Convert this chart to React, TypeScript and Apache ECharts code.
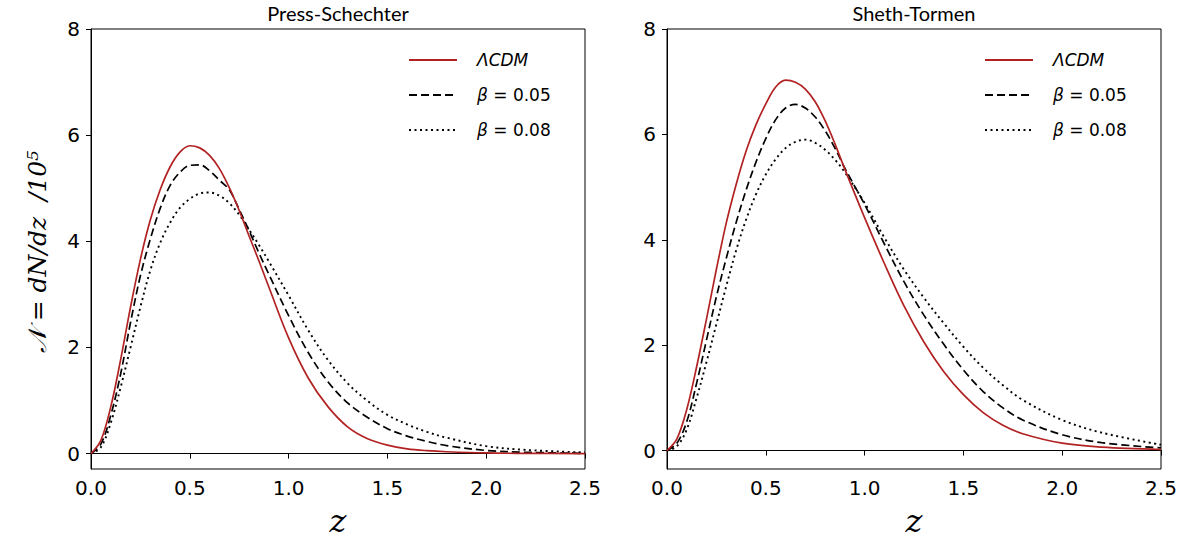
import React, { useEffect, useRef } from "react";
import * as echarts from "echarts";

// redshift grid
const zGrid = [0, 0.05, 0.1, 0.15, 0.2, 0.25, 0.3, 0.35, 0.4, 0.45, 0.5, 0.55, 0.6, 0.65, 0.7, 0.75, 0.8, 0.85, 0.9, 1.0, 1.1, 1.2, 1.3, 1.4, 1.5, 1.6, 1.7, 1.8, 2.0, 2.2, 2.5];

// Press-Schechter
const psLCDM = [0, 0.25, 0.88, 1.77, 2.76, 3.66, 4.40, 4.97, 5.40, 5.68, 5.80, 5.76, 5.62, 5.37, 5.01, 4.58, 4.10, 3.63, 3.14, 2.18, 1.42, 0.88, 0.50, 0.28, 0.16, 0.09, 0.055, 0.035, 0.012, 0.005, 0.001];
const psB005 = [0, 0.18, 0.72, 1.50, 2.47, 3.35, 4.04, 4.62, 5.05, 5.30, 5.43, 5.44, 5.33, 5.15, 4.97, 4.60, 4.20, 3.78, 3.38, 2.60, 1.90, 1.35, 0.95, 0.68, 0.47, 0.33, 0.23, 0.15, 0.06, 0.025, 0.005];
const psB008 = [0, 0.12, 0.58, 1.25, 2.00, 2.76, 3.45, 3.97, 4.35, 4.63, 4.80, 4.90, 4.92, 4.86, 4.72, 4.50, 4.22, 3.93, 3.62, 2.98, 2.32, 1.76, 1.32, 0.99, 0.73, 0.55, 0.41, 0.30, 0.14, 0.07, 0.02];

// Sheth-Tormen
const stLCDM = [0, 0.22, 0.78, 1.59, 2.50, 3.44, 4.32, 5.05, 5.68, 6.18, 6.58, 6.90, 7.03, 6.99, 6.86, 6.62, 6.26, 5.82, 5.34, 4.42, 3.55, 2.74, 2.06, 1.50, 1.06, 0.72, 0.48, 0.32, 0.14, 0.065, 0.02];
const stB005 = [0, 0.14, 0.55, 1.28, 2.10, 2.92, 3.65, 4.33, 4.94, 5.47, 5.92, 6.28, 6.50, 6.57, 6.50, 6.33, 6.07, 5.74, 5.36, 4.67, 3.92, 3.20, 2.57, 2.02, 1.53, 1.12, 0.81, 0.58, 0.30, 0.15, 0.05];
const stB008 = [0, 0.08, 0.40, 1.00, 1.68, 2.40, 3.12, 3.80, 4.38, 4.86, 5.24, 5.53, 5.74, 5.86, 5.90, 5.84, 5.71, 5.52, 5.28, 4.70, 4.04, 3.43, 2.90, 2.42, 1.97, 1.57, 1.24, 0.96, 0.58, 0.34, 0.11];

const seriesNames = ["ΛCDM", "β = 0.05", "β = 0.08"];
const panelTitles = ["Press-Schechter", "Sheth-Tormen"];
const xTicks = [0, 0.5, 1.0, 1.5, 2.0, 2.5];
const yTicks = [0, 2, 4, 6, 8];
const yMins = [-0.29, -0.35];

const pairs = (ys: number[]) => zGrid.map((z, i) => [z, ys[i]]);

const RED = "#b22222";
const styles = [
  { color: RED, width: 1.7, type: "solid" as any },
  { color: "#000", width: 1.7, type: [8, 4] as any },
  { color: "#000", width: 1.9, type: [2, 3.5] as any },
];

export default function App() {
  const ref = useRef<HTMLDivElement>(null);
  useEffect(() => {
    const chart = echarts.init(ref.current!, null, { renderer: "svg" });
    const gridLefts = [91, 667];
    const grids = gridLefts.map((l) => ({
      left: l,
      top: 29,
      width: 494,
      bottom: 72,
      show: true,
      borderColor: "#000",
      borderWidth: 1,
      backgroundColor: "transparent",
    }));
    const xAxes = [0, 1].map((i) => ({
      type: "value",
      gridIndex: i,
      min: 0,
      max: 2.5,
      interval: 0.5,
      axisLine: { show: true, lineStyle: { color: "#000", width: 1 } },
      axisTick: { show: true, inside: false, length: 5, lineStyle: { color: "#000" } },
      axisLabel: {
        show: true,
        margin: 9,
        fontSize: 20,
        color: "#000",
        fontFamily: "DejaVu Sans",
        formatter: (v: number) => v.toFixed(1),
        customValues: xTicks,
      },
      splitLine: { show: false },
    }));
    const yAxes = [0, 1].map((i) => ({
      type: "value",
      gridIndex: i,
      min: yMins[i],
      max: 8,
      axisLine: { show: true, lineStyle: { color: "#000", width: 1 } },
      axisTick: { show: true, inside: false, length: 5, lineStyle: { color: "#000" }, customValues: yTicks },
      axisLabel: {
        show: true,
        margin: 11,
        fontSize: 20,
        color: "#000",
        fontFamily: "DejaVu Sans",
        customValues: yTicks,
      },
      splitLine: { show: false },
    }));
    const panelData = [
      [psLCDM, psB005, psB008],
      [stLCDM, stB005, stB008],
    ];
    const series: any[] = [];
    panelData.forEach((arrs, p) => {
      arrs.forEach((ys, k) => {
        series.push({
          type: "line",
          name: seriesNames[k],
          xAxisIndex: p,
          yAxisIndex: p,
          data: pairs(ys),
          smooth: 0.35,
          symbol: "none",
          showSymbol: false,
          lineStyle: styles[k],
          itemStyle: { color: styles[k].color },
          z: 3 - k,
        });
      });
    });
    const legendLefts = [403, 979];
    const legends = legendLefts.map((l) => ({
      show: true,
      orient: "vertical",
      left: l,
      top: 45,
      itemWidth: 48,
      itemHeight: 20,
      itemGap: 15,
      selectedMode: false,
      data: seriesNames,
      itemStyle: { opacity: 0 },
      formatter: (name: string) => (name === "ΛCDM" ? "{i|ΛCDM}" : "{i|β} " + name.slice(2)),
      textStyle: {
        fontSize: 17,
        color: "#000",
        fontFamily: "DejaVu Sans",
        padding: [0, 0, 0, 15],
        lineHeight: 20,
        rich: {
          i: { fontStyle: "italic", fontSize: 17, fontFamily: "DejaVu Sans", color: "#000" },
        },
      },
    }));
    const graphics: any[] = [];
    panelTitles.forEach((t, i) => {
      graphics.push({
        type: "text",
        x: gridLefts[i] + 247,
        y: 13,
        style: { text: t, fontSize: 20, fontFamily: "'Liberation Sans Narrow', Lato, sans-serif", fill: "#000", textAlign: "center", textVerticalAlign: "middle" },
      });
      graphics.push({
        type: "text",
        x: gridLefts[i] + 247,
        y: 521,
        style: { text: "z", fontSize: 32, fontFamily: "DejaVu Serif", fontStyle: "italic", fill: "#000", textAlign: "center", textVerticalAlign: "middle" },
      });
    });
    graphics.push({
      type: "text",
      x: 37,
      y: 252,
      rotation: Math.PI / 2,
      style: {
        text: "𝒩 = dN/dz  /10⁵",
        fontSize: 25,
        fontFamily: "DejaVu Serif",
        fontStyle: "italic",
        fill: "#000",
        textAlign: "center",
        textVerticalAlign: "middle",
      },
    });
    chart.setOption({
      animation: false,
      backgroundColor: "#fff",
      grid: grids,
      xAxis: xAxes,
      yAxis: yAxes,
      legend: legends,
      series,
      graphic: graphics,
    });
    return () => chart.dispose();
  }, []);
  return <div ref={ref} style={{ position: "absolute", left: 0, top: 0, width: 1190, height: 541 }} />;
}
